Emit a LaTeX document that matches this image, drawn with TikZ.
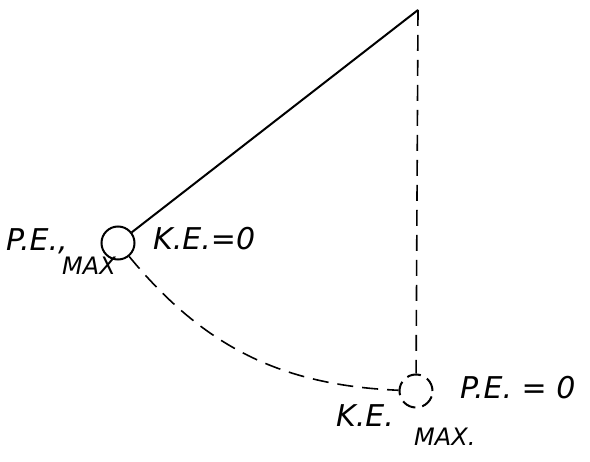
\documentclass[tikz,border=0pt]{standalone}
\usepackage{fontspec}
\setmainfont{DejaVu Sans}
\usepackage{tikz}
\usetikzlibrary{positioning}

\begin{document}
\begin{tikzpicture}[
  x=1pt, y=-1pt,
  bob/.style={draw, circle, line width=2pt, minimum size=33pt, inner sep=0pt},
  bobdash/.style={bob, dash pattern=on 14pt off 7pt},
  rod/.style={line width=2pt},
  path/.style={line width=1.6pt, dash pattern=on 16pt off 9pt},
  lbl/.style={font=\fontsize{30}{32}\selectfont\itshape, inner sep=0pt},
  sublbl/.style={font=\fontsize{24}{26}\selectfont\itshape, inner sep=0pt}
]
\useasboundingbox (0,0) rectangle (590,462);

% Pivot
\coordinate (pivot) at (418,10);

% Bobs
\node[bob] (bobA) at (118,243) {};
\node[bobdash] (bobB) at (416,391) {};

% Rod and paths
\draw[rod] (pivot) -- (bobA);
\draw[path] (pivot) -- (bobB);
\draw[path] (bobA) to[bend right=24] (bobB);

% Labels at top of swing
\node[lbl, anchor=base west] (peMax) at (6,251) {P.E.,};
\node[sublbl, anchor=base west] (peMaxSub) at (62,275) {MAX};
\node[lbl, anchor=base west] (keZero) at (153,250) {K.E.=0};

% Labels at bottom of swing
\node[lbl, anchor=base west] (peZero) at (460,399) {P.E. = 0};
\node[lbl, anchor=base west] (keMax) at (336,427) {K.E.};
\node[sublbl, anchor=base west] (keMaxSub) at (414,446) {MAX.};

\end{tikzpicture}
\end{document}
